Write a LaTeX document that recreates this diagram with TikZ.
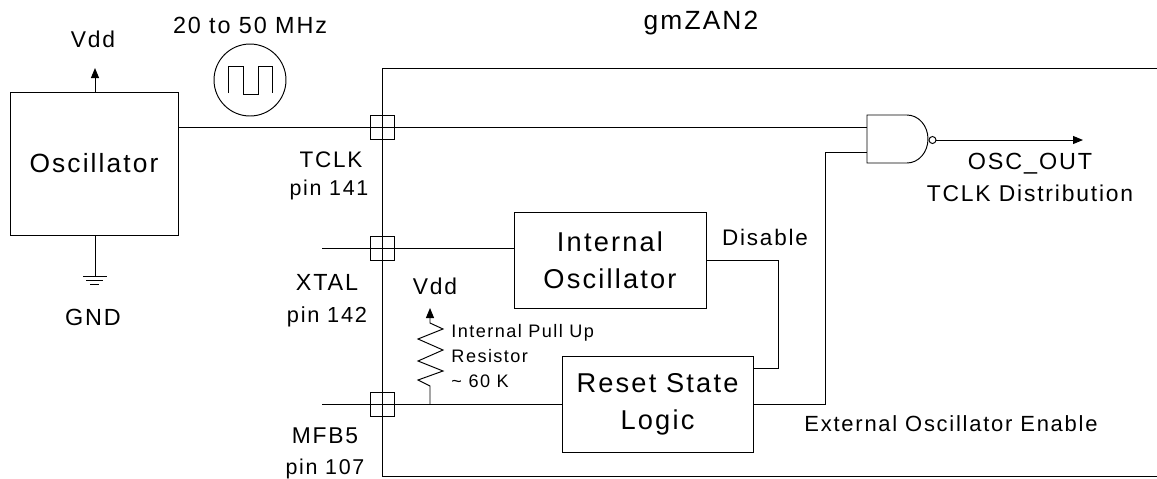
\documentclass[tikz,border=0pt]{standalone}
\usepackage{fontspec}
\setmainfont{Liberation Sans}[LetterSpace=8]
\usetikzlibrary{positioning,arrows.meta}

\newcommand{\fsz}[1]{\fontsize{#1}{#1}\selectfont}

\tikzset{
    block/.style={draw, inner sep=0pt, align=center},
    padbox/.style={draw, minimum size=0.48cm, inner sep=0pt},
    txt/.style={anchor=base, inner sep=0pt},
    tip/.style={-{Triangle[length=0.2cm, width=0.16cm]}},
}

\begin{document}
\begin{tikzpicture}[x=0.02cm, y=-0.02cm, line width=0.55pt]
            \useasboundingbox (0,0) rectangle (1157,478);

            % chip outline
            \draw (1157,68) -- (382,68) -- (382,476) -- (1157,476);
            \node[txt, font=\fsz{15}] (chip) at (701,29) {gmZAN2};

            % blocks
            \node[block, minimum width=3.36cm, minimum height=2.86cm, font=\fsz{15}] (osc) at (94,163.5) {Oscillator};
            \node[block, minimum width=3.84cm, minimum height=1.92cm, font=\fontsize{15.5}{21}\selectfont] (intosc) at (610,260) {Internal\\Oscillator};
            \node[block, minimum width=3.82cm, minimum height=1.92cm, font=\fontsize{15.5}{21}\selectfont] (reset) at (657.5,404) {Reset State\\Logic};

            % pads
            \node[padbox] (ptclk) at (382,127) {};
            \node[padbox] (pxtal) at (382,248) {};
            \node[padbox] (pmfb)  at (382,404) {};

            % clock symbol
            \node[draw, circle, minimum size=1.44cm, inner sep=0pt] (clk) at (250,80) {};
            \draw (228,93) -- (228,66) -- (243,66) -- (243,94) -- (258,94) -- (258,66) -- (272,66) -- (272,93);
            \node[txt, font=\fsz{13.3}] (freq) at (250,33) {20 to 50 MHz};

            % supply and ground of the oscillator
            \coordinate (vddtop) at (95,68);
            \coordinate (gnd)    at (95,276);
            \draw[tip] (osc.north -| vddtop) -- (vddtop);
            \node[txt, font=\fsz{13}] (vdd) at (93,47) {Vdd};
            \draw (osc.south -| gnd) -- (gnd);
            \draw (83,276) -- (107,276);
            \draw (86,280) -- (103,280);
            \draw (90,284) -- (99,284);
            \node[txt, font=\fsz{13.3}] (gndlbl) at (93,325) {GND};

            % NAND gate
            \coordinate (nanda) at (867,127);
            \coordinate (nandb) at (867,152);
            \coordinate (nandy) at (936,140);
            \draw (907,115) -- (867,115) -- (867,163) -- (907,163)
                  (907,115) arc[start angle=90, end angle=-90, x radius=0.42cm, y radius=0.48cm];
            \draw (932.5,140) circle[radius=0.07cm];
            \coordinate (out) at (1083,140);
            \draw[tip] (nandy) -- (out);
            \node[txt, font=\fsz{13.3}] (osco)  at (1030,169) {OSC\_OUT};
            \node[txt, font=\fsz{13}]   (tdist) at (1030,201) {TCLK Distribution};

            % pins
            \draw (osc.east |- ptclk) -- (nanda);
            \coordinate (xtalin) at (322,248);
            \draw (xtalin) -- (intosc.west |- pxtal);
            \coordinate (mfbin) at (322,404);
            \draw (mfbin) -- (reset.west);
            \node[txt, font=\fsz{12.8}] (tclk)  at (331,167) {TCLK};
            \node[txt, font=\fsz{12.2}] (pin1)  at (329,195) {pin 141};
            \node[txt, font=\fsz{13.3}] (xtal)  at (327,290) {XTAL};
            \node[txt, font=\fsz{12.4}] (pin2)  at (327,322) {pin 142};
            \node[txt, font=\fsz{13}]   (mfb)   at (325,443) {MFB5};
            \node[txt, font=\fsz{12.2}] (pin3)  at (325,474) {pin 107};

            % disable and enable
            \coordinate (dis) at (778,368);
            \draw (intosc.east) -- (intosc.east -| dis) -- (dis) -- (reset.east |- dis);
            \node[txt, font=\fsz{12.8}] (dislbl) at (765,245) {Disable};
            \coordinate (en) at (825,404);
            \draw (reset.east) -- (en) -- (en |- nandb) -- (nandb);
            \node[txt, font=\fsz{12.5}] (enlbl) at (951,431) {External Oscillator Enable};

            % pull up resistor
            \coordinate (rbot) at (430,404);
            \coordinate (rtop) at (430,308);
            \draw[tip] (rbot) -- (430,386) -- (418,380) -- (443,371) -- (418,361) -- (443,350) -- (418,339) -- (443,329) -- (430,323) -- (rtop);
            \node[txt, font=\fsz{13}] (vddin) at (435,294) {Vdd};
            \node[txt, anchor=base west, font=\fsz{10.3}] (r1) at (451,337) {Internal Pull Up};
            \node[txt, anchor=base west, font=\fsz{10.3}] (r2) at (451,362) {Resistor};
            \node[txt, anchor=base west, font=\fsz{10.3}] (r3) at (451,387) {\textasciitilde\ 60 K};
        \end{tikzpicture}
\end{document}
